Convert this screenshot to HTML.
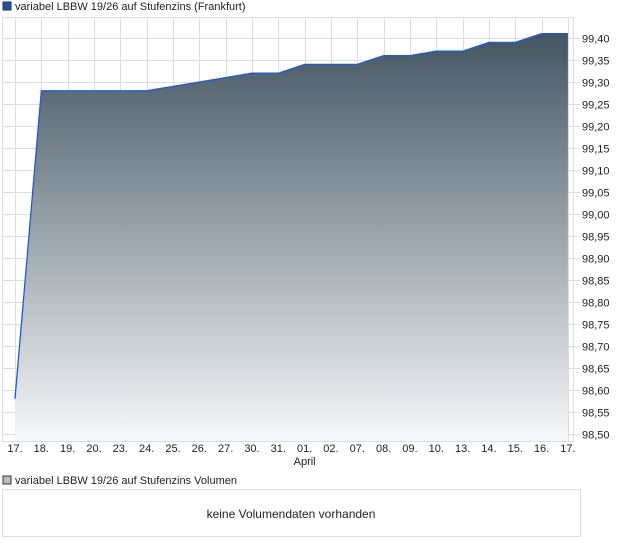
<!DOCTYPE html>
<html><head><meta charset="utf-8"><style>
body{margin:0;background:#fff;font-family:"Liberation Sans",sans-serif;}
</style></head><body>
<svg width="620" height="546" xmlns="http://www.w3.org/2000/svg" font-family="Liberation Sans, sans-serif" font-size="11">
<defs><linearGradient id="g" x1="0" y1="0" x2="0" y2="1">
<stop offset="0" stop-color="#435562"/><stop offset="1" stop-color="#f6f7f9"/></linearGradient></defs>
<rect x="3" y="2" width="8" height="8" fill="#1f4fa8" stroke="#333" stroke-width="1"/>
<text x="15" y="10" fill="#222">variabel LBBW 19/26 auf Stufenzins (Frankfurt)</text>
<rect x="2.5" y="17.5" width="571" height="424" fill="#fff" stroke="#ddd"/>
<g stroke="#ddd" stroke-width="1" id="grid"></g>
<path id="area" fill="url(#g)"/>
<path id="line" fill="none" stroke="#1f5bd0" stroke-width="1.3"/>
<g id="labels" fill="#222"></g>
<rect x="3" y="476" width="8" height="8" fill="#bbb" stroke="#333"/>
<text x="15" y="484" fill="#222">variabel LBBW 19/26 auf Stufenzins Volumen</text>
<rect x="2.5" y="489.5" width="578" height="47" fill="#fff" stroke="#ddd"/>
<text x="291" y="518" text-anchor="middle" font-size="12" fill="#222">keine Volumendaten vorhanden</text>
</svg>
<script>
var ns="http://www.w3.org/2000/svg";
function el(t,a,p,txt){var e=document.createElementNS(ns,t);for(var k in a)e.setAttribute(k,a[k]);if(txt)e.textContent=txt;document.querySelector(p).appendChild(e);}
var X=function(i){return 15+i*26.33};
var Y=function(v){return 434-440*(v-98.5)};
for(var i=0;i<22;i++){var x=Math.round(X(i))+.5;el("line",{x1:x,x2:x,y1:18,y2:441},"#grid");}
var labs=["17.","18.","19.","20.","23.","24.","25.","26.","27.","30.","31.","01.","02.","07.","08.","09.","10.","13.","14.","15.","16.","17."];
for(var i=0;i<22;i++)el("text",{x:X(i),y:452,"text-anchor":"middle"},"#labels",labs[i]);
el("text",{x:X(11),y:465,"text-anchor":"middle"},"#labels","April");
for(var k=0;k<=18;k++){var v=98.5+k*0.05,y=Math.round(Y(v))+.5;
el("line",{x1:3,x2:580,y1:y,y2:y},"#grid");
el("text",{x:582,y:y+4},"#labels",v.toFixed(2).replace(".",","));}
var d=[98.58,99.28,99.28,99.28,99.28,99.28,99.29,99.30,99.31,99.32,99.32,99.34,99.34,99.34,99.36,99.36,99.37,99.37,99.39,99.39,99.41,99.41];
var p="";for(var i=0;i<d.length;i++)p+=(i?"L":"M")+X(i)+" "+Y(d[i]);
document.getElementById("line").setAttribute("d",p);
document.getElementById("area").setAttribute("d",p+"L"+X(21)+" 441L"+X(0)+" 441Z");
</script>
</body></html>
